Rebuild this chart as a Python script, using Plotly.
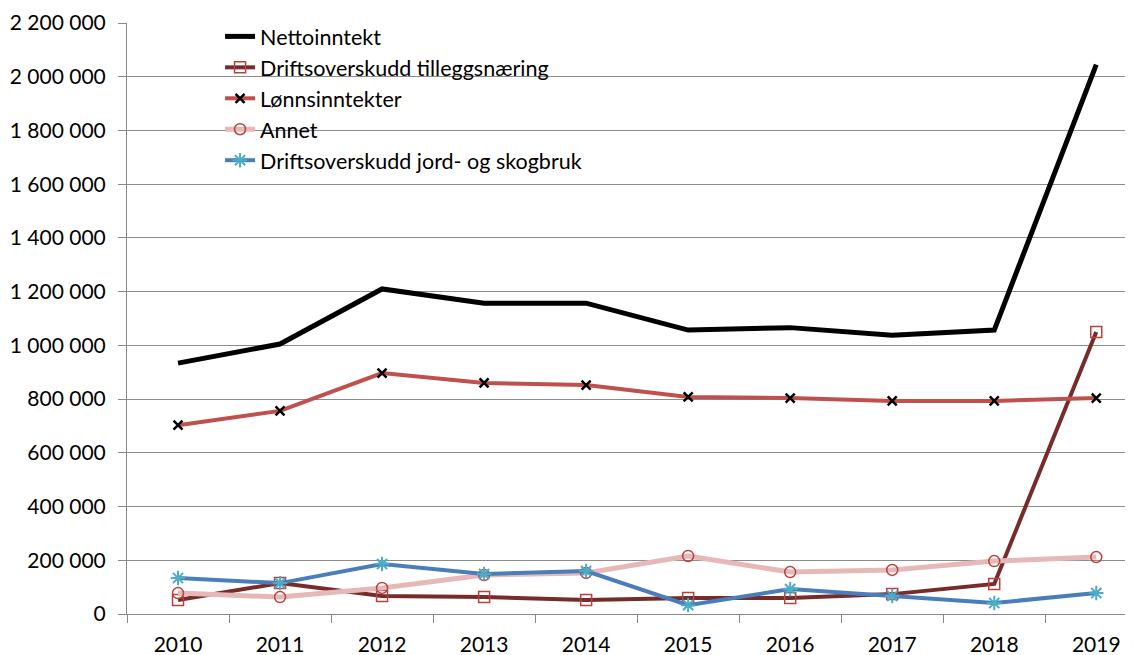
import plotly.graph_objects as go

years = ["2010", "2011", "2012", "2013", "2014", "2015", "2016", "2017", "2018", "2019"]

nettoinntekt = [934000, 1005000, 1210000, 1157000, 1157000, 1057000, 1066000, 1038000, 1057000, 2045000]
tilleggsnaering = [52000, 115000, 67000, 63000, 52000, 60000, 60000, 74000, 112000, 1050000]
lonnsinntekter = [703000, 756000, 897000, 860000, 852000, 808000, 804000, 793000, 793000, 804000]
annet = [78000, 63000, 97000, 145000, 153000, 216000, 156000, 164000, 197000, 212000]
jord_skog = [134000, 115000, 186000, 149000, 160000, 33000, 93000, 67000, 41000, 78000]

fig = go.Figure()

fig.add_trace(go.Scatter(
    x=years, y=nettoinntekt, name="Nettoinntekt", legendgroup="a",
    mode="lines", line=dict(color="#000000", width=5),
))
fig.add_trace(go.Scatter(
    x=years, y=tilleggsnaering, name="Driftsoverskudd tilleggsnæring", legendgroup="b",
    mode="lines+markers", line=dict(color="#772C2A", width=4),
    marker=dict(symbol="square-open", size=11, color="#B8403D", line=dict(width=1.5)),
))
fig.add_trace(go.Scatter(
    x=years, y=lonnsinntekter, name="Lønnsinntekter", legendgroup="c",
    mode="lines+markers", line=dict(color="#C0504D", width=4),
    marker=dict(symbol="x-thin-open", size=9, color="#000000", line=dict(width=2.5, color="#000000")),
))
fig.add_trace(go.Scatter(
    x=years, y=annet, name="Annet", legendgroup="d",
    mode="lines+markers", line=dict(color="#E6B9B8", width=5),
    marker=dict(symbol="circle-open", size=11, color="#B8403D", line=dict(width=1.5)),
))
fig.add_trace(go.Scatter(
    x=years, y=jord_skog, name="Driftsoverskudd jord- og skogbruk", legendgroup="e",
    mode="lines+markers", line=dict(color="#4A7EBB", width=4),
    marker=dict(symbol="asterisk-open", size=12, color="#4BACC6", line=dict(width=2, color="#4BACC6")),
))

# the page body has an 8px margin, so the figure is a little smaller than the window
fig.update_layout(
    width=1125, height=647,
    paper_bgcolor="white", plot_bgcolor="white",
    margin=dict(l=119, r=0, t=15, b=41, autoexpand=False),
    separators=", ",
    font=dict(family="Lato, Liberation Sans, sans-serif", size=21, color="#000000"),
    legend=dict(
        x=0.0925, y=1.012, xanchor="left", yanchor="top",
        bgcolor="rgba(0,0,0,0)", font=dict(size=21.5),
        tracegroupgap=0, itemwidth=30,
    ),
    xaxis=dict(
        type="category", range=[-0.5, 9.36], automargin=False,
        tickson="boundaries", ticks="outside", ticklen=8, tickcolor="#888888",
        ticklabelstandoff=12,
        showline=True, linecolor="#888888", linewidth=1,
        showgrid=False, zeroline=False,
    ),
    yaxis=dict(
        range=[0, 2200000], dtick=200000, tickformat=",d", automargin=False,
        ticks="outside", ticklen=8, tickcolor="#888888",
        ticklabelstandoff=8,
        showline=True, linecolor="#888888", linewidth=1,
        showgrid=True, gridcolor="#8C8C8C", gridwidth=1,
        zeroline=False,
    ),
)

fig.write_html("out.html")
